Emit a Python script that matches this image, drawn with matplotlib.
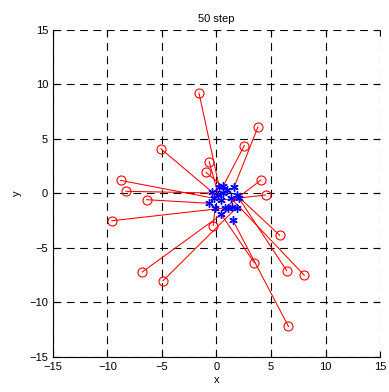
import numpy as np
import matplotlib.pyplot as plt

plt.rcParams['font.family'] = ['Liberation Sans', 'DejaVu Sans']

# end points (circles) and current positions (stars) after 50 steps
end_x = [-1.6, 3.8, 2.55, -5.1, -0.66, -0.96, -8.8, -8.3, -6.4, -9.6,
         4.08, 4.5, -0.3, 5.8, 3.47, 6.44, 8.05, -6.8, -4.9, 6.6]
end_y = [9.2, 6.1, 4.4, 4.1, 2.9, 1.94, 1.2, 0.2, -0.57, -2.5,
         1.24, -0.14, -2.95, -3.84, -6.35, -7.08, -7.5, -7.2, -8.0, -12.2]
pos_x = [0.26, 1.63, 0.62, -0.44, 0.17, 0.94, -0.23, 0.62, -0.66, 1.03,
         0.78, 0.41, -0.14, 1.85, 0.41, 2.06, 1.33, 1.45, 1.85, 1.49]
pos_y = [0.57, 0.62, 0.69, 0.17, -0.14, 0.32, -0.44, 0.02, -0.9, -1.3,
         -1.3, -0.6, -1.36, -0.14, -1.88, -0.44, -0.44, -1.21, -1.3, -2.43]
ticks = [-15, -10, -5, 0, 5, 10, 15]

fig = plt.figure(figsize=(3.89, 3.92), dpi=100)
ax = fig.add_axes([0.136, 0.0893, 0.841, 0.8342])

for ex, ey, px, py in zip(end_x, end_y, pos_x, pos_y):
    ax.plot([ex, px], [ey, py], color='red', lw=0.75)
ax.plot(end_x, end_y, 'o', mfc='none', mec='red', ms=6.5, mew=0.8)
ax.plot(pos_x, pos_y, ls='none', marker=(6, 2, 0), color='blue', ms=6, mew=1.0)

ax.set_xlim(-15, 15)
ax.set_ylim(-15, 15)
ax.set_xticks(ticks)
ax.set_yticks(ticks)
ax.grid(True, color='black', ls=(0, (7, 5)), lw=0.8)
ax.spines['top'].set_visible(False)
ax.spines['right'].set_visible(False)
ax.tick_params(direction='in', top=True, right=True, labelsize=8, length=4, width=0.8)
ax.set_title('50 step', fontsize=8)
ax.set_xlabel('x', fontsize=8, labelpad=2)
ax.set_ylabel('y', fontsize=8, labelpad=5)

fig.savefig('out.png', dpi=100)
